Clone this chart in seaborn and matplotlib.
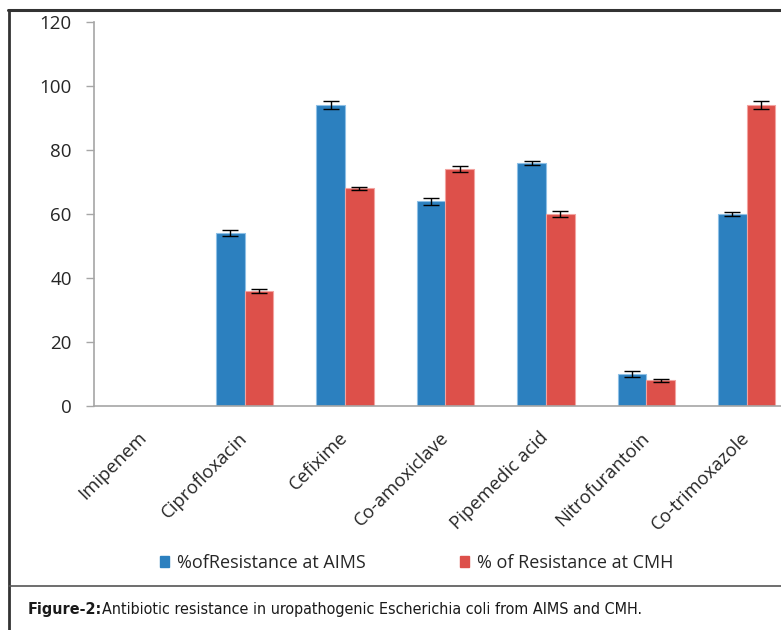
import numpy as np
import pandas as pd
import seaborn as sns
import matplotlib.pyplot as plt
from matplotlib.lines import Line2D

## Data
drugs = ["Imipenem", "Ciprofloxacin", "Cefixime", "Co-amoxiclave",
         "Pipemedic acid", "Nitrofurantoin", "Co-trimoxazole"]
aims = [0, 54, 94, 64, 76, 10, 60]
cmh = [0, 36, 68, 74, 60, 8, 94]
aims_err = [0, 1.0, 1.3, 1.1, 0.6, 1.0, 0.7]
cmh_err = [0, 0.6, 0.5, 0.9, 0.8, 0.5, 1.2]
series = ["%ofResistance at AIMS", "% of Resistance at CMH"]
y_ticks = [0, 20, 40, 60, 80, 100, 120]
caption_bold = "Figure-2:"
caption_text = "Antibiotic resistance in uropathogenic Escherichia coli from AIMS and CMH."

df = pd.DataFrame({
    "drug": drugs * 2,
    "series": [series[0]] * len(drugs) + [series[1]] * len(drugs),
    "value": aims + cmh,
    "err": aims_err + cmh_err,
})

## Style
sns.set_style("white")
plt.rcParams["font.family"] = ["Open Sans", "DejaVu Sans"]
text_col = "#262626"
blue, red = "#2C80BF", "#DD504A"

W, H = 781, 630
fig = plt.figure(figsize=(W / 100, H / 100), dpi=100)
ax = fig.add_axes([94 / W, (H - 406) / H, 703 / W, 384 / H])

sns.barplot(
    ax=ax, data=df, x="drug", y="value", hue="series", order=drugs,
    hue_order=series, palette=[blue, red], width=0.57, errorbar=None,
    saturation=1, legend=False,
)

edge_cols = ["#8EC0E6", "#F2A3A0"]
for cont, errs, ec in zip(ax.containers, [aims_err, cmh_err], edge_cols):
    xs, ys, es = [], [], []
    for bar, e in zip(cont.patches, errs):
        bar.set_edgecolor(ec)
        bar.set_linewidth(0.8)
        if bar.get_height() > 0:
            xs.append(bar.get_x() + bar.get_width() / 2)
            ys.append(bar.get_height())
            es.append(e)
    ax.errorbar(xs, ys, yerr=es, fmt="none", ecolor="black",
                elinewidth=1, capsize=6, capthick=1, zorder=5)

ax.set_xlim(-0.5, len(drugs) - 0.5)
ax.set_ylim(0, 120)
ax.set_yticks(y_ticks)
ax.set_yticklabels([str(v) for v in y_ticks], fontsize=13.5, color=text_col)
ax.set_xlabel("")
ax.set_ylabel("")

ax.set_xticks(range(len(drugs)))
ax.set_xticklabels(drugs, rotation=45, ha="right", va="center",
                   rotation_mode="anchor", fontsize=13.3, color=text_col)
ax.set_xticks(np.arange(-0.5, len(drugs), 1), minor=True)
ax.tick_params(axis="x", which="major", length=0, pad=21)
ax.tick_params(axis="x", which="minor", length=6, width=1, color="#a6a6a6", direction="out")
ax.tick_params(axis="y", length=6, width=1, color="#a6a6a6", direction="out", pad=10, left=True)

for side in ["top", "right"]:
    ax.spines[side].set_visible(False)
for side in ["left", "bottom"]:
    ax.spines[side].set_color("#a6a6a6")
    ax.spines[side].set_linewidth(1.2)

## Legend
handles = [plt.Rectangle((0, 0), 1, 1, color=c) for c in [blue, red]]
fig.legend(handles, series, loc="center", bbox_to_anchor=(417 / W, 1 - 563 / H),
           ncol=2, frameon=False, fontsize=13, handlelength=0.5, handleheight=0.5,
           handletextpad=0.45, columnspacing=5.2, labelcolor=text_col)

## Frame and caption
fig.add_artist(Line2D([9 / W, 9 / W], [0, 1 - 10 / H], color="#333333", lw=2))
fig.add_artist(Line2D([8 / W, 1], [1 - 10 / H, 1 - 10 / H], color="#333333", lw=2.2))
fig.add_artist(Line2D([9 / W, 1], [1 - 586 / H, 1 - 586 / H], color="#555555", lw=1.2))

# caption set in a condensed face, shrunk to the width it has in the reference
cap_font = ["Liberation Sans Narrow", "DejaVu Sans"]
cap_size = 14
cap_left, cap_right, cap_base = 28, 647, 614
renderer = fig.canvas.get_renderer()
for _ in range(3):
    t1 = fig.text(cap_left / W, 1 - cap_base / H, caption_bold, fontsize=cap_size,
                  fontweight="bold", family=cap_font, stretch="condensed",
                  color="#1a1a1a", va="baseline")
    bb = t1.get_window_extent(renderer)
    t2 = fig.text(bb.x1 / W, 1 - cap_base / H, caption_text, fontsize=cap_size,
                  family=cap_font, stretch="condensed", color="#1a1a1a", va="baseline")
    bb2 = t2.get_window_extent(renderer)
    scale = (cap_right - cap_left) / (bb2.x1 - bb.x0)
    if abs(scale - 1) < 0.01:
        break
    t1.remove()
    t2.remove()
    cap_size *= scale

fig.savefig("out.png", dpi=100)
